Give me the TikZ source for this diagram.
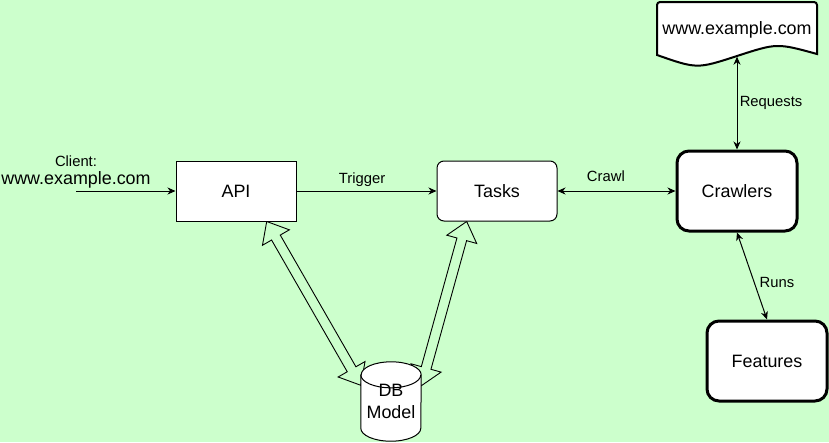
\documentclass[tikz,border=0pt]{standalone}
\usepackage{fontspec}
\setmainfont{Liberation Sans}
\usetikzlibrary{arrows.meta,calc}
\definecolor{bggreen}{HTML}{CCFFCC}
\pgfdeclarelayer{back}
\pgfsetlayers{back,main}
\newcommand\bigf{\fontsize{17.9}{21.5}\selectfont}
\newcommand\smallf{\fontsize{14.8}{17.8}\selectfont}
\newcommand\flexarr[2]{%
  \path (#1) coordinate (fa) (#2) coordinate (fb);
  \coordinate (fh1) at ($(fa)!18.5pt!(fb)$);
  \coordinate (fh2) at ($(fb)!18.5pt!(fa)$);
  \filldraw[flexstyle] (fa) -- ($(fh1)!15.5pt!90:(fb)$) -- ($(fh1)!5pt!90:(fb)$)
    -- ($(fh2)!5pt!-90:(fa)$) -- ($(fh2)!15.5pt!-90:(fa)$) -- (fb)
    -- ($(fh2)!15.5pt!90:(fa)$) -- ($(fh2)!5pt!90:(fa)$)
    -- ($(fh1)!5pt!-90:(fb)$) -- ($(fh1)!15.5pt!-90:(fb)$) -- cycle;}
\begin{document}
\begin{tikzpicture}[x=1pt,y=-1pt,
  box/.style={draw, fill=white, minimum width=120pt, minimum height=60pt,
    inner sep=0pt, line width=1pt, font=\bigf},
  boldbox/.style={box, minimum height=80pt, line width=3pt, rounded corners=12pt},
  conn/.style={line width=1pt, {Stealth[length=8pt,width=7pt,inset=2.5pt]}-{Stealth[length=8pt,width=7pt,inset=2.5pt]}},
  conn1/.style={line width=1pt, -{Stealth[length=8pt,width=7pt,inset=2.5pt]}},
  lbl/.style={font=\smallf, inner sep=1pt},
  flexstyle/.style={draw, fill=bggreen, line width=0.9pt, line join=miter},
  cyl/.style={draw, fill=white, line width=1pt}]
\useasboundingbox (0,0) rectangle (829,442);

% doc shape
\filldraw[fill=white, line width=2pt] (657,55) {[rounded corners=3pt] -- (657,2) -- (817,2)} -- (817,54)
  .. controls (777,43) .. (737,56) .. controls (697,69) .. (657,55) -- cycle;
\node[font=\bigf, minimum width=160pt, minimum height=53pt, inner sep=0pt] (doc) at (737,30) {www.example.com};

\node[box] (api) at (236,191) {API};
\node[box, rounded corners=7pt] (tasks) at (497,191) {Tasks};
\node[boldbox] (crawlers) at (737,191) {Crawlers};
\node[boldbox] (features) at (767,361) {Features};
\node[inner sep=0pt, minimum width=60pt, minimum height=79pt, align=center, font=\bigf] (db) at (391,401.5) {DB\\Model};

\node[lbl] (clientlbl) at (76,161) {Client:};
\node[font=\bigf, inner sep=0pt] (clienturl) at (76,180) {www.example.com};
\coordinate (clientsrc) at (76,191);

\begin{pgfonlayer}{back}
  \fill[bggreen] (0,0) rectangle (829,442);
  \flexarr{$(api.south)+(30.7,0)$}{$(db.north west)+(0,23.5)$}
  \flexarr{$(tasks.south)+(-30.3,0)$}{$(db.north east)+(0,24)$}
  \filldraw[cyl] ($(db.north west)+(0,13)$) -- ($(db.south west)+(0,-13)$)
    arc[start angle=180, end angle=360, x radius=30pt, y radius=13pt]
    -- ($(db.north east)+(0,13)$)
    arc[start angle=0, end angle=180, x radius=30pt, y radius=13pt] -- cycle;
  \draw[cyl, fill=none] ($(db.north west)+(0,13)$)
    arc[start angle=180, end angle=360, x radius=30pt, y radius=13pt];
\end{pgfonlayer}

\draw[conn1] (clientsrc) -- (api.west);
\draw[conn1] (api.east) -- (tasks.west) node[lbl, pos=0.468, yshift=11pt] {Trigger};
\draw[conn] (tasks.east) -- (crawlers.west) node[lbl, pos=0.41, yshift=15pt] {Crawl};
\draw[conn] (doc.south) -- (crawlers.north) node[lbl, midway, xshift=34pt] {Requests};
\draw[conn] (crawlers.south) -- (features.north) node[lbl, pos=0.58, xshift=22.6pt] {Runs};
\end{tikzpicture}
\end{document}
